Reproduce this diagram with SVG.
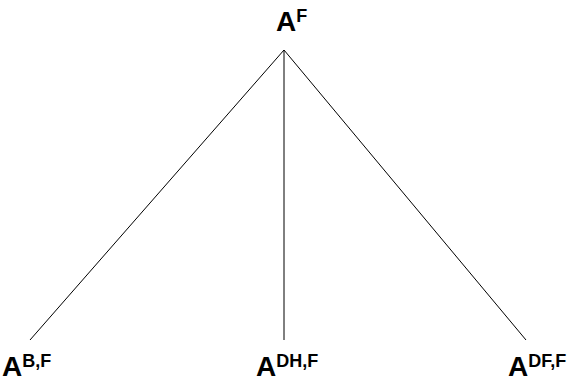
<svg xmlns="http://www.w3.org/2000/svg" width="576" height="382" viewBox="0 0 576 382">
<style>
.l{stroke:#000;stroke-width:1;fill:none}
.a{font-family:"Liberation Sans",Arial,sans-serif;font-weight:bold;font-size:28px;fill:#000}
.s{font-size:18px}
</style>
<rect width="576" height="382" fill="#fff"/>
<g id="connectors">
<line class="l" x1="284" y1="50" x2="30" y2="340"/>
<line class="l" x1="284" y1="50" x2="284" y2="340"/>
<line class="l" x1="284" y1="50" x2="526" y2="340"/>
</g>
<g id="top"><text class="a" x="276" y="31">A<tspan class="s" dy="-9">F</tspan></text></g>
<g id="left"><text class="a" x="2" y="376">A<tspan class="s" dy="-9">B,F</tspan></text></g>
<g id="mid"><text class="a" x="256" y="376">A<tspan class="s" dy="-9">DH,F</tspan></text></g>
<g id="right"><text class="a" x="508" y="376">A<tspan class="s" dy="-9">DF,F</tspan></text></g>
</svg>
